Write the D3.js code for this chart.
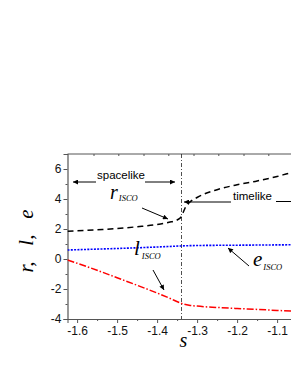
<!DOCTYPE html>
<html><head><meta charset="utf-8">
<script src="https://cdn.jsdelivr.net/npm/d3@7"></script>
<style>body{margin:0;background:#fff}svg{display:block}</style>
</head><body>
<svg id="c" width="291" height="376"></svg>
<script>
// Data
const sR = [-1.624,-1.6,-1.55,-1.5,-1.45,-1.4,-1.37,-1.35,-1.34,-1.335,-1.33,-1.32,-1.3,-1.25,-1.2,-1.15,-1.1,-1.065,-1.0];
const rISCO = [1.85,1.88,1.95,2.03,2.15,2.3,2.45,2.6,2.8,3.1,3.4,3.75,4.1,4.62,4.95,5.2,5.5,5.75,5.95];
const sL = [-1.624,-1.6,-1.5,-1.4,-1.34,-1.3,-1.2,-1.1,-1.0];
const eISCO = [0.6,0.62,0.7,0.8,0.87,0.9,0.92,0.94,0.96];
const sE = [-1.624,-1.6,-1.55,-1.5,-1.45,-1.4,-1.37,-1.34,-1.32,-1.3,-1.25,-1.2,-1.15,-1.1,-1.065,-1.0];
const lISCO = [-0.07,-0.28,-0.75,-1.25,-1.75,-2.27,-2.6,-2.95,-3.08,-3.14,-3.23,-3.3,-3.36,-3.43,-3.47,-3.52];
const sBoundary = -1.339;
const xMajor = [-1.6,-1.5,-1.4,-1.3,-1.2,-1.1];
const xMajorLabels = ["-1.6","-1.5","-1.4","-1.3","-1.2","-1.1"];
const xMinor = [-1.55,-1.45,-1.35,-1.25,-1.15,-1.05];
const xTop = [-1.559,-1.497,-1.434,-1.372,-1.309,-1.247,-1.184,-1.122,-1.059];
const yMajor = [-4,-2,0,2,4,6];
const yMajorLabels = ["-4","-2","0","2","4","6"];
const yMinor = [-3,-1,1,3,5];

const svg = d3.select("#c");
const L = 67.5, T = 154, B = 319;
const x = d3.scaleLinear().domain([-1.624, -1.0]).range([L, L + 0.624*400]);
const y = d3.scaleLinear().domain([-4, 7]).range([B, T]);
const R = x(-1.0);
const axisColor = "#555";
const sans = "'Liberation Sans', Arial, sans-serif";
const serif = "'Liberation Serif', 'Times New Roman', serif";

// frame
svg.append("line").attr("x1",L).attr("x2",R).attr("y1",T).attr("y2",T).attr("stroke",axisColor).attr("stroke-width",1);

// bottom axis
const gx = svg.append("g").attr("transform",`translate(0,${B})`)
  .call(d3.axisBottom(x).tickValues(xMajor).tickFormat((d,i)=>xMajorLabels[i]).tickSizeOuter(0).tickSize(4).tickPadding(3));
gx.select(".domain").attr("stroke",axisColor);
gx.selectAll(".tick line").attr("stroke",axisColor);
gx.selectAll("text").attr("font-family",sans).attr("font-size",12).attr("fill","#111");
const gxm = svg.append("g").attr("transform",`translate(0,${B})`)
  .call(d3.axisBottom(x).tickValues(xMinor).tickFormat("").tickSizeOuter(0).tickSize(2));
gxm.select(".domain").remove();
gxm.selectAll(".tick line").attr("stroke",axisColor);

// top ticks (inward)
const gt = svg.append("g").attr("transform",`translate(0,${T})`)
  .call(d3.axisBottom(x).tickValues(xTop).tickFormat("").tickSizeOuter(0).tickSize(2));
gt.select(".domain").remove();
gt.selectAll(".tick line").attr("stroke",axisColor);

// left axis
const gy = svg.append("g").attr("transform",`translate(${L},0)`)
  .call(d3.axisLeft(y).tickValues(yMajor).tickFormat((d,i)=>yMajorLabels[i]).tickSizeOuter(0).tickSize(4).tickPadding(2));
gy.select(".domain").attr("stroke",axisColor).attr("stroke-width",1.2);
gy.selectAll(".tick line").attr("stroke",axisColor);
gy.selectAll("text").attr("font-family",sans).attr("font-size",12).attr("fill","#111");
const gym = svg.append("g").attr("transform",`translate(${L},0)`)
  .call(d3.axisLeft(y).tickValues(yMinor).tickFormat("").tickSizeOuter(0).tickSize(2));
gym.select(".domain").remove();
gym.selectAll(".tick line").attr("stroke",axisColor);

// boundary line
svg.append("line").attr("x1",x(sBoundary)).attr("x2",x(sBoundary)).attr("y1",T).attr("y2",B)
  .attr("stroke","#222").attr("stroke-width",0.8).attr("stroke-dasharray","4,2,1,2");

// curves
svg.append("clipPath").attr("id","pc").append("rect").attr("x",L).attr("y",T).attr("width",R-L).attr("height",B-T);
const line = d3.line().x(d=>x(d[0])).y(d=>y(d[1])).curve(d3.curveMonotoneX);
const g = svg.append("g").attr("clip-path","url(#pc)");
g.append("path").attr("d",line(sR.map((s,i)=>[s,rISCO[i]]))).attr("fill","none").attr("stroke","#000").attr("stroke-width",1.5).attr("stroke-dasharray","6,4");
g.append("path").attr("d",line(sL.map((s,i)=>[s,eISCO[i]]))).attr("fill","none").attr("stroke","#0000ff").attr("stroke-width",1.6).attr("stroke-dasharray","2,1.3");
g.append("path").attr("d",line(sE.map((s,i)=>[s,lISCO[i]]))).attr("fill","none").attr("stroke","#ff0000").attr("stroke-width",1.5).attr("stroke-dasharray","7,2,1.5,2");

// arrow markers
const defs = svg.append("defs");
defs.append("marker").attr("id","ah").attr("viewBox","0 0 10 10").attr("refX",10).attr("refY",5)
  .attr("markerWidth",7).attr("markerHeight",5).attr("markerUnits","userSpaceOnUse").attr("orient","auto")
  .append("path").attr("d","M0,0L10,5L0,10Z").attr("fill","#000");
function arrow(x1,y1,x2,y2){
  svg.append("line").attr("x1",x1).attr("y1",y1).attr("x2",x2).attr("y2",y2)
    .attr("stroke","#000").attr("stroke-width",1).attr("marker-end","url(#ah)");
}
function plainLine(x1,y1,x2,y2){
  svg.append("line").attr("x1",x1).attr("y1",y1).attr("x2",x2).attr("y2",y2).attr("stroke","#000").attr("stroke-width",1);
}

// spacelike
svg.append("text").attr("x",97).attr("y",179).attr("font-family",sans).attr("font-size",11.5).attr("fill","#000").text("spacelike");
arrow(96,182,73,182);
arrow(145,182,175,182);
// timelike
svg.append("text").attr("x",233).attr("y",200).attr("font-family",sans).attr("font-size",11.5).attr("fill","#000").text("timelike");
plainLine(276,201.5,291,201.5);
arrow(231,202,184,202);

// r_ISCO
const tr = svg.append("text").attr("x",110).attr("y",199).attr("font-family",serif).attr("font-style","italic").attr("fill","#000");
tr.append("tspan").attr("font-size",20).text("r");
tr.append("tspan").attr("font-size",8.5).attr("dy",2).attr("dx",1).text("ISCO");
arrow(142,208,168,219);
// l_ISCO
const tl = svg.append("text").attr("x",134).attr("y",255).attr("font-family",serif).attr("font-style","italic").attr("fill","#000");
tl.append("tspan").attr("font-size",21).text("l");
tl.append("tspan").attr("font-size",8.5).attr("dy",4).attr("dx",2).text("ISCO");
arrow(153,270,164,290);
// e_ISCO
const te = svg.append("text").attr("x",253).attr("y",266).attr("font-family",serif).attr("font-style","italic").attr("fill","#000");
te.append("tspan").attr("font-size",21).text("e");
te.append("tspan").attr("font-size",8.5).attr("dy",4).attr("dx",1).text("ISCO");
arrow(249,266,228,248);

// axis titles
svg.append("text").attr("transform","translate(33,241) rotate(-90)").attr("text-anchor","middle")
  .attr("font-family",serif).attr("font-style","italic").attr("font-size",21).attr("fill","#000")
  .text("r,\u00a0\u00a0\u00a0l,\u00a0\u00a0\u00a0e");
svg.append("text").attr("x",183.5).attr("y",347).attr("text-anchor","middle")
  .attr("font-family",serif).attr("font-style","italic").attr("font-size",20).attr("fill","#000").text("s");
</script>
</body></html>
